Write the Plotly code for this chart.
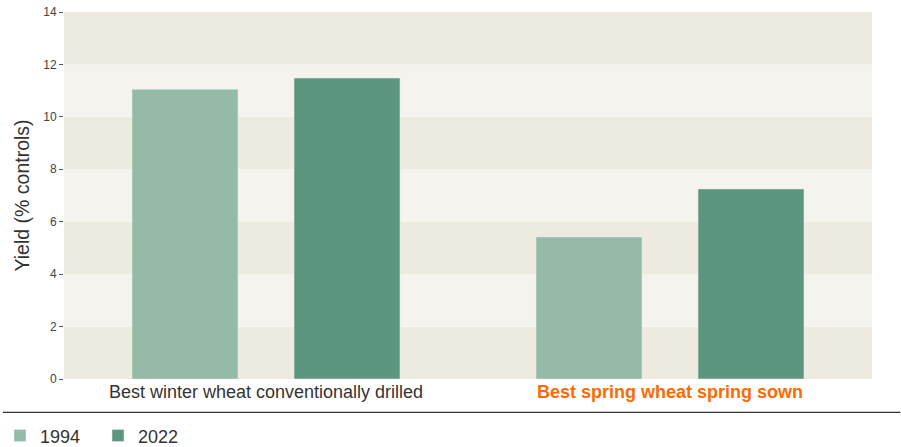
import plotly.graph_objects as go

categories = ["Best winter wheat conventionally drilled", "Best spring wheat spring sown"]
yield_1994 = [11.05, 5.42]
yield_2022 = [11.48, 7.25]
band_edges = [0, 2, 4, 6, 8, 10, 12, 14]

tick_text = [
    "<span style='color:#333333'>Best winter wheat conventionally drilled</span>",
    "<b><span style='color:#ff6a00'>Best spring wheat spring sown</span></b>",
]

fig = go.Figure()
fig.add_trace(go.Bar(x=categories, y=yield_1994, name="1994", marker_color="#95baa8"))
fig.add_trace(go.Bar(x=categories, y=yield_2022, name="2022", marker_color="#5d967e"))

# alternating background bands
for i in range(len(band_edges) - 1):
    fig.add_shape(type="rect", xref="paper", yref="y", x0=0, x1=1,
                  y0=band_edges[i], y1=band_edges[i + 1],
                  fillcolor="#edeadf" if i % 2 == 0 else "#f4f3ed",
                  line_width=0, layer="below")

# rule above legend
fig.add_shape(type="line", xref="paper", yref="paper", x0=-0.0755, x1=1.035,
              y0=-0.091, y1=-0.091, line=dict(color="#333333", width=1.4))

fig.update_layout(
    width=901, height=447,
    margin=dict(l=64, r=29, t=12, b=68, autoexpand=False),
    paper_bgcolor="white", plot_bgcolor="white",
    font=dict(family="Liberation Sans, Arial, sans-serif", color="#333333"),
    barmode="group", bargap=0.198, bargroupgap=0.346,
    showlegend=True,
    legend=dict(orientation="h", xref="container", yref="container",
                x=-0.02, xanchor="left", y=0.025, yanchor="middle",
                font=dict(size=18, color="#333333"), itemwidth=30,
                entrywidth=53, traceorder="normal"),
    xaxis=dict(tickvals=categories, ticktext=tick_text, tickfont=dict(size=18),
               showgrid=False, showline=False, ticks="", automargin=False),
    yaxis=dict(range=[0, 14], tickvals=band_edges, ticks="outside", ticklen=4,
               tickcolor="#555555", tickfont=dict(size=12, color="#444444"),
               showgrid=False, zeroline=False, showline=False, automargin=False,
               title=dict(text="Yield (% controls)", font=dict(size=19.5, color="#333333"), standoff=8)),
)

fig.write_html("out.html", config={"displayModeBar": False},
               post_script="document.body.style.margin='0';")
